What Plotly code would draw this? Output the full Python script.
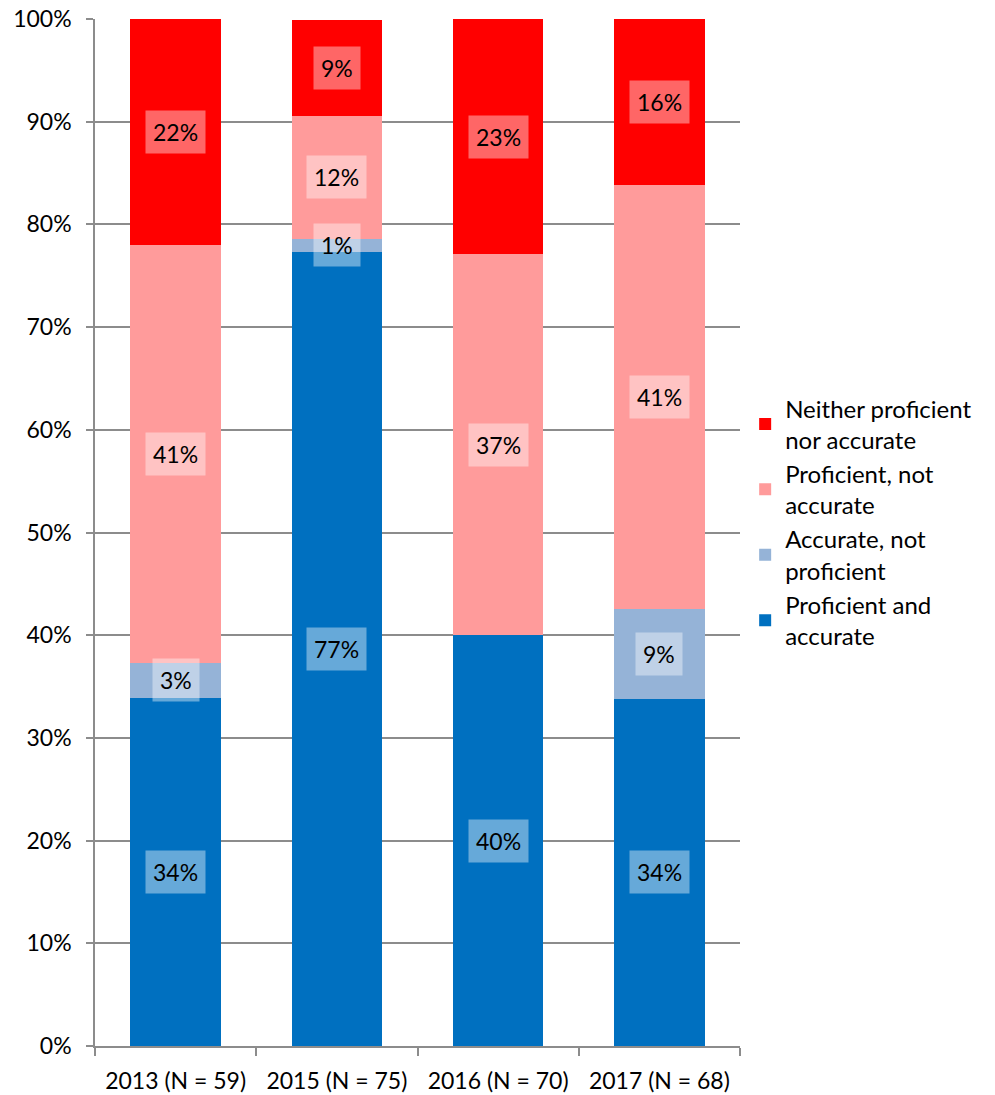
import plotly.graph_objects as go

# Survey years and respondent counts
categories = ["2013 (N = 59)", "2015 (N = 75)", "2016 (N = 70)", "2017 (N = 68)"]

# Percent of respondents in each group (counts / N * 100)
proficient_accurate = [33.9, 77.3, 40.0, 33.8]
accurate_not_proficient = [3.4, 1.3, 0.0, 8.8]
proficient_not_accurate = [40.7, 12.0, 37.1, 41.2]
neither = [22.0, 9.3, 22.9, 16.2]

series = [
    ("Proficient and<br>accurate", proficient_accurate, "#0070C0"),
    ("Accurate, not<br>proficient", accurate_not_proficient, "#95B3D7"),
    ("Proficient, not<br>accurate", proficient_not_accurate, "#FF9B9B"),
    ("Neither proficient<br>nor accurate", neither, "#FF0000"),
]

FONT = "Lato, Open Sans, sans-serif"
FS = 23
fig = go.Figure()
base = [0.0] * len(categories)
annotations = []
for name, vals, color in series:
    fig.add_trace(go.Bar(
        x=categories, y=vals, name=name, marker_color=color,
        marker_line_width=0,
    ))
    for i, v in enumerate(vals):
        if v > 0:
            annotations.append(dict(
                x=categories[i], y=base[i] + v / 2, xref="x", yref="y",
                text=f"{round(v)}%", showarrow=False,
                font=dict(family=FONT, size=FS, color="#000000"),
                bgcolor="rgba(255,255,255,0.4)", borderpad=7,
            ))
        base[i] += v

fig.update_layout(
    barmode="stack",
    bargap=0.44,
    width=995, height=1095,
    margin=dict(l=95, r=255, t=19, b=49),
    plot_bgcolor="white", paper_bgcolor="white",
    font=dict(family=FONT, size=FS, color="#000000"),
    annotations=annotations,
    legend=dict(
        x=1.008, xanchor="left", y=0.51, yanchor="middle",
        traceorder="reversed",
        font=dict(family=FONT, size=24),
        itemwidth=30, tracegroupgap=3,
    ),
    xaxis=dict(
        showline=True, linecolor="#8C8C8C", linewidth=1.5,
        ticks="outside", ticklen=8, tickcolor="#8C8C8C", tickwidth=1.5,
        tickson="boundaries", showgrid=False, automargin=False,
        ticklabelstandoff=14,
        tickfont=dict(family=FONT, size=FS),
    ),
    yaxis=dict(
        range=[0, 100], dtick=10, ticksuffix="%",
        showline=True, linecolor="#8C8C8C", linewidth=1.5,
        ticks="outside", ticklen=7, tickcolor="#8C8C8C", tickwidth=1.5,
        showgrid=True, gridcolor="#8C8C8C", gridwidth=1.5,
        zeroline=False, automargin=False, ticklabelstandoff=10,
        tickfont=dict(family=FONT, size=FS),
    ),
)

fig.write_html("out.html")
